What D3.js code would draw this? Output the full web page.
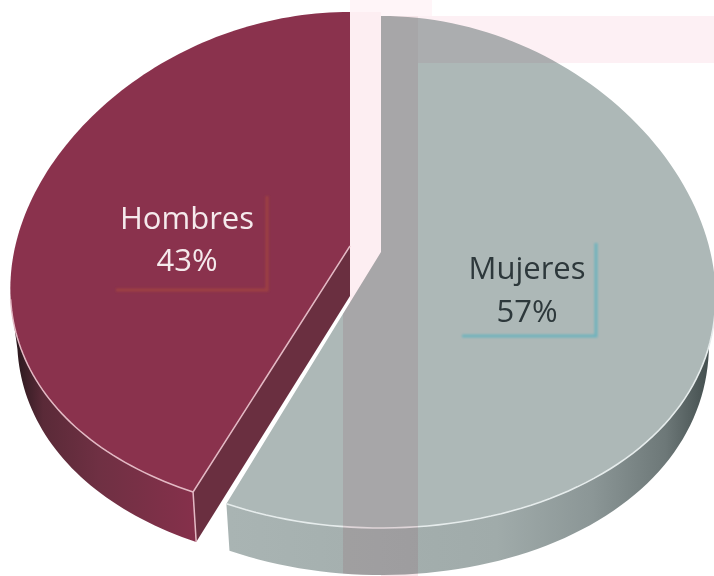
<!DOCTYPE html>
<html>
<head>
<meta charset="utf-8">
<script src="https://cdn.jsdelivr.net/npm/d3@7"></script>
<style>
  html, body { margin: 0; padding: 0; background: #fff; }
  svg { display: block; }
  text { font-family: "Open Sans", sans-serif; font-size: 31px; text-anchor: middle; }
</style>
</head>
<body>
<div id="chart"></div>
<script>
// Hombres y Mujeres
const categories = ["Mujeres", "Hombres"];
const percents = [57, 43];

const width = 714, height = 576;
const svg = d3.select('#chart').append('svg')
    .attr('width', width)
    .attr('height', height);

const angles = d3.pie().sort(null)(percents);

// each slice has its own centre because Hombres is pulled out of the pie
const shape = [
    {cx: 381, cy: 272, rx: 333, ry: 256, apexY: 252, depth: 47},
    {cx: 350, cy: 264, rx: 338, ry: 252, apexY: 246, depth: 50}
];
const perspective = 0.1;

function project(s, a) {
    return [
        s.cx + s.rx * Math.sin(a) * (1 - perspective * Math.cos(a)),
        s.cy - s.ry * Math.cos(a)
    ];
}
function rim(s, a0, a1) {
    return d3.range(0, 121).map(i => project(s, a0 + (a1 - a0) * i / 120));
}
// the lower edge of the slice wall pulls in a little towards the centre
function drop(s, p) {
    return [p[0] - 0.02 * (p[0] - s.cx), p[1] + s.depth];
}
const line = d3.line();

const defs = svg.append('defs');
defs.append('filter').attr('id', 'soft')
    .append('feGaussianBlur').attr('stdDeviation', 0.9);

const sideGrad = defs.append('linearGradient').attr('id', 'sideMujeres')
    .attr('gradientUnits', 'userSpaceOnUse')
    .attr('x1', 230).attr('x2', 714).attr('y1', 0).attr('y2', 0);
sideGrad.selectAll('stop')
    .data([[0, '#a9b4b3'], [0.55, '#a0abaa'], [0.75, '#8b9696'], [0.9, '#6d7878'], [1, '#3f4a4a']])
    .enter().append('stop')
    .attr('offset', d => d[0])
    .attr('stop-color', d => d[1]);
const sideGradH = defs.append('linearGradient').attr('id', 'sideHombres')
    .attr('gradientUnits', 'userSpaceOnUse')
    .attr('x1', 18).attr('x2', 197).attr('y1', 0).attr('y2', 0);
sideGradH.selectAll('stop')
    .data([[0, '#2e1a20'], [0.14, '#5a2a38'], [0.45, '#6f3043'], [1, '#86304b']])
    .enter().append('stop')
    .attr('offset', d => d[0])
    .attr('stop-color', d => d[1]);

// pale bands of the scanned page, under the slices
const paper = svg.append('g');
paper.append('rect').attr('x', 350).attr('y', 0).attr('width', 82).attr('height', 16).attr('fill', '#fff5f8');
paper.append('rect').attr('x', 350).attr('y', 12).attr('width', 31).attr('height', 290).attr('fill', '#fdeef2');

// Mujeres
const m = shape[0], mA = angles[0];
const mRim = rim(m, mA.startAngle, mA.endAngle);
const mSideRim = mRim.filter(p => p[1] > m.cy + 20);
const mSide = mSideRim.concat(mSideRim.slice().reverse().map(p => drop(m, p)));
const mTop = [[m.cx, m.apexY]].concat(mRim);
svg.append('path')
    .attr('d', line(mSide) + 'Z')
    .attr('fill', 'url(#sideMujeres)');
svg.append('path')
    .attr('d', line(mTop) + 'Z')
    .attr('fill', '#adb8b7');
svg.append('path')
    .attr('d', line(mSideRim))
    .attr('fill', 'none')
    .attr('stroke', '#e6ecec')
    .attr('stroke-width', 1.6);

defs.append('clipPath').attr('id', 'mujeresShape')
    .selectAll('path')
    .data([mSide, mTop])
    .enter().append('path')
    .attr('d', d => line(d) + 'Z');

// Hombres
const h = shape[1], hA = angles[1];
const hRim = rim(h, hA.startAngle, hA.endAngle);
const hSideRim = hRim.filter(p => p[1] > h.cy + 30);
const corner = hRim[0];
const apex = [h.cx, h.apexY];
svg.append('path')
    .attr('d', line([apex, corner, drop(h, corner), drop(h, apex)]) + 'Z')
    .attr('fill', '#6a2f40');
svg.append('path')
    .attr('d', line(hSideRim.concat(hSideRim.slice().reverse().map(p => drop(h, p)))) + 'Z')
    .attr('fill', 'url(#sideHombres)');
svg.append('path')
    .attr('d', line([apex].concat(hRim)) + 'Z')
    .attr('fill', '#8a324d');
svg.append('path')
    .attr('d', line(hSideRim))
    .attr('fill', 'none')
    .attr('stroke', '#e3b9c4')
    .attr('stroke-width', 1.5);
svg.append('path')
    .attr('d', line([apex, corner, drop(h, corner)]))
    .attr('fill', 'none')
    .attr('stroke', '#e3b9c4')
    .attr('stroke-width', 1.5);

// the same bands where they print over the grey slice
const bands = svg.append('g').style('mix-blend-mode', 'multiply');
bands.append('rect').attr('x', 381).attr('y', 16).attr('width', 37).attr('height', 560).attr('fill', '#f7e6ea');
bands.append('rect').attr('x', 418).attr('y', 16).attr('width', 296).attr('height', 47).attr('fill', '#fdf0f4');
bands.append('rect').attr('x', 343).attr('y', 250).attr('width', 38).attr('height', 326)
    .attr('fill', '#f7e6ea')
    .attr('clip-path', 'url(#mujeresShape)');

// labels, with the shadow frame behind each one
const labels = [
    {x: 187, y1: 229, y2: 271, fill: '#f5eaec', line: '#a5463f', bx0: 116, bx1: 267, by0: 196, by1: 290, alpha: 0.75},
    {x: 527, y1: 279, y2: 322, fill: '#2d383b', line: '#6fb3bd', bx0: 462, bx1: 596, by0: 243, by1: 336, alpha: 1}
];
categories.forEach((c, i) => {
    const l = labels[i === 0 ? 1 : 0];
    svg.append('path')
        .attr('d', line([[l.bx1, l.by0], [l.bx1, l.by1], [l.bx0, l.by1]]))
        .attr('fill', 'none')
        .attr('stroke', l.line)
        .attr('stroke-width', 3)
        .attr('opacity', l.alpha)
        .attr('filter', 'url(#soft)');
    svg.append('text').attr('x', l.x).attr('y', l.y1).attr('fill', l.fill).text(c);
    svg.append('text').attr('x', l.x).attr('y', l.y2).attr('fill', l.fill).text(percents[i] + '%');
});
</script>
</body>
</html>
